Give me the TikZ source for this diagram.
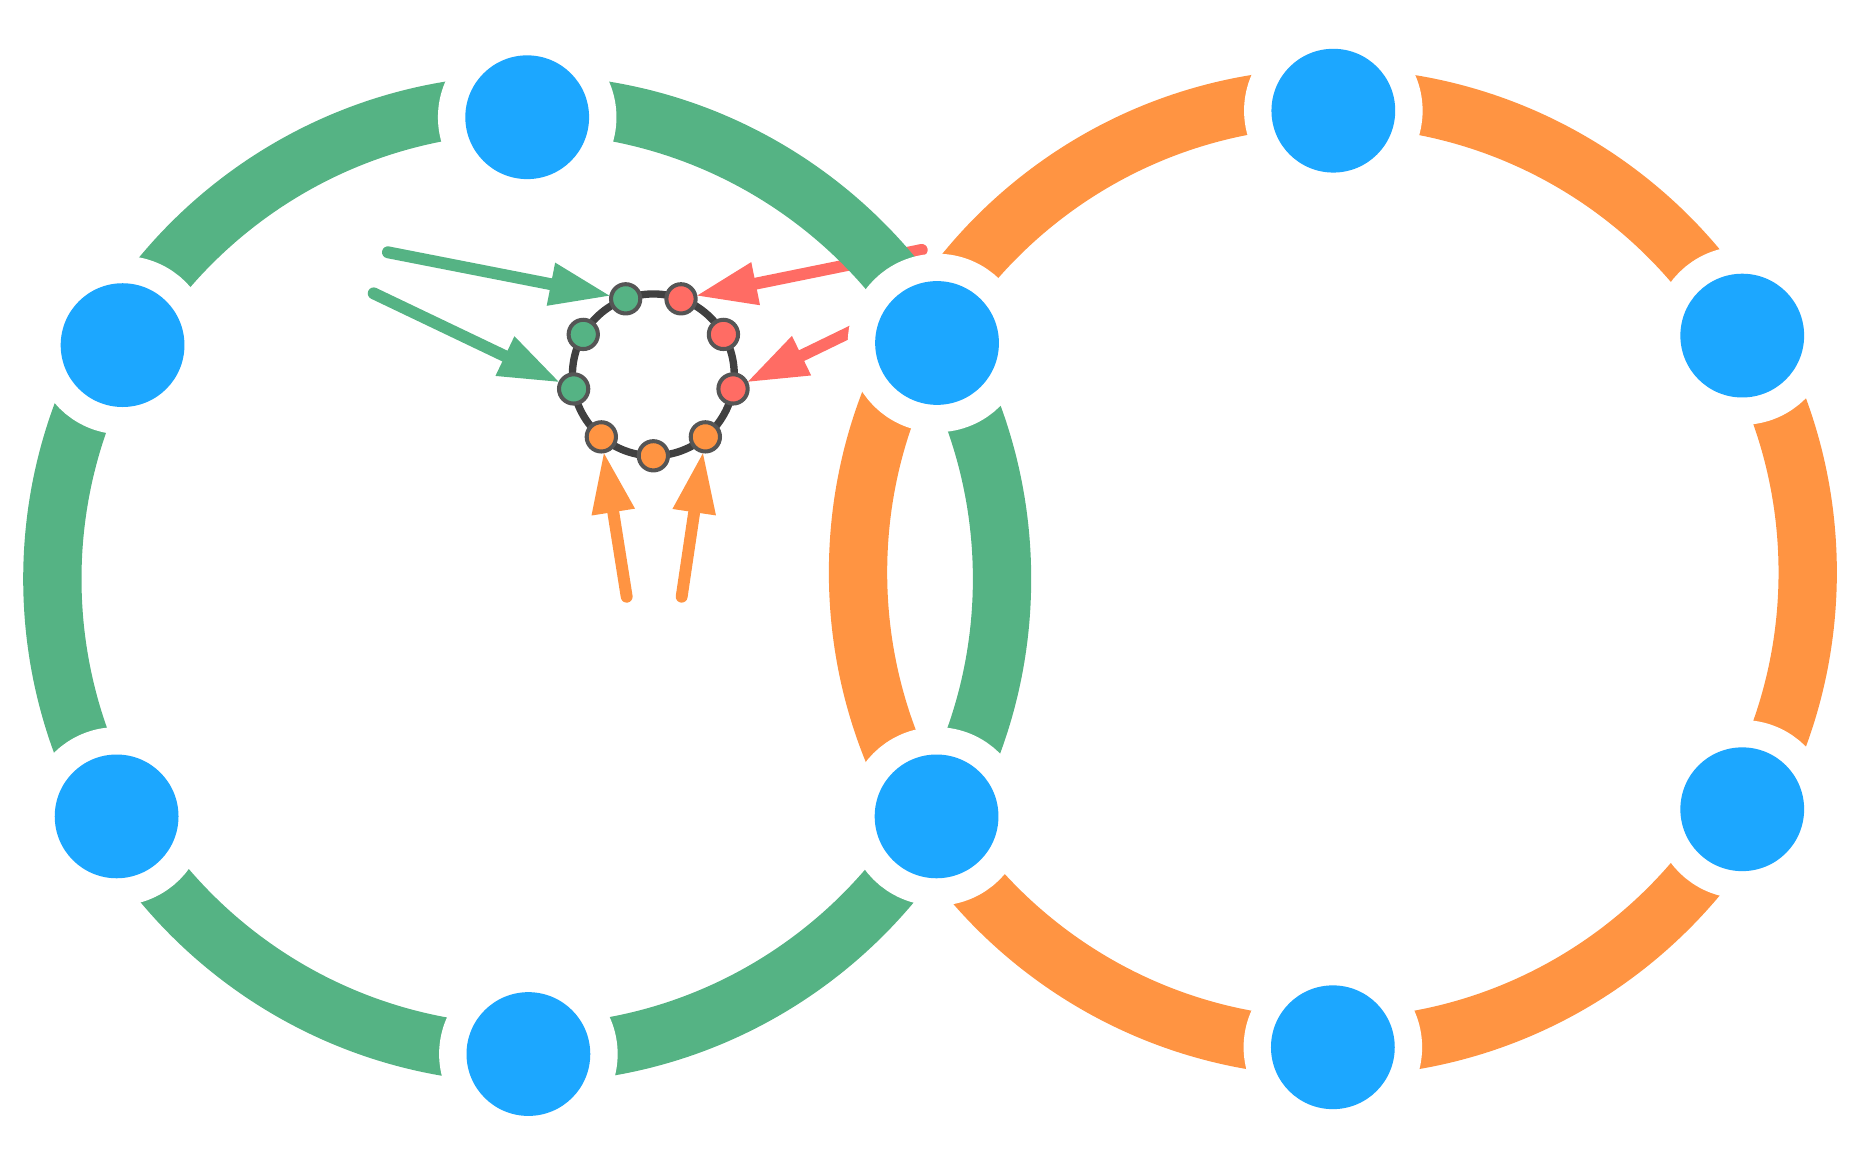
\documentclass[tikz,border=0pt]{standalone}
\usetikzlibrary{arrows.meta}
\definecolor{cgreen}{RGB}{85,179,132}
\definecolor{corange}{RGB}{255,148,66}
\definecolor{cred}{RGB}{255,108,100}
\definecolor{cblue}{RGB}{28,167,255}
\definecolor{cring}{RGB}{64,64,64}
\definecolor{cborder}{RGB}{85,85,85}
\begin{document}
\begin{tikzpicture}[x=1pt,y=-1pt,
  hub/.style={circle, fill=cblue, minimum size=104pt, inner sep=0pt, outer sep=0pt,
              preaction={draw=white, line width=46pt}},
  port/.style={circle, fill=#1, draw=cborder, line width=3.4pt, minimum size=24.6pt, inner sep=0pt},
  band/.style={draw=#1, line width=49pt},
  feed/.style={draw=#1, line width=10pt, line cap=round,
               -{Triangle[length=50pt,width=37pt,line width=0pt]}}
]
\useasboundingbox (0,0) rectangle (1568,980);
% tails of the feeding arrows
\coordinate (t1) at (326,212);
\coordinate (t2) at (314,246.5);
\coordinate (t3) at (774.5,210);
\coordinate (t4) at (735,269);
\coordinate (t5) at (526.6,501.4);
\coordinate (t6) at (572.8,501.4);
% small ring
\coordinate (rc) at (549,315);
\draw[cring, line width=6.2pt] (rc) circle[radius=68pt];
\path (rc) ++(110:68pt) node[port=cgreen] (p110) {};
\path (rc) ++(150:68pt) node[port=cgreen] (p150) {};
\path (rc) ++(190:68pt) node[port=cgreen] (p190) {};
\path (rc) ++(70:68pt) node[port=cred] (p70) {};
\path (rc) ++(30:68pt) node[port=cred] (p30) {};
\path (rc) ++(350:68pt) node[port=cred] (p350) {};
\path (rc) ++(310:68pt) node[port=corange] (p310) {};
\path (rc) ++(270:68pt) node[port=corange] (p270) {};
\path (rc) ++(230:68pt) node[port=corange] (p230) {};
% arrows
\draw[feed=cgreen] (t1) -- (p110);
\draw[feed=cgreen] (t2) -- (p190);
\draw[feed=cred] (t3) -- (p70);
\draw[feed=cred] (t4) -- (p350);
\draw[feed=corange] (t5) -- (p230);
\draw[feed=corange] (t6) -- (p310);
% big rings
\draw[band=cgreen] (443,486.5) circle[radius=399pt];
\draw[band=corange] (1120,481) circle[radius=399pt];
% hubs
\node[hub] (gtop) at (443,98.5) {};
\node[hub] (gul) at (103,290) {};
\node[hub] (gll) at (98,686) {};
\node[hub] (gbot) at (444,885.7) {};
\node[hub] (sup) at (787.4,288.2) {};
\node[hub] (slo) at (787,686) {};
\node[hub] (otop) at (1120.4,93) {};
\node[hub] (our) at (1464,282) {};
\node[hub] (olr) at (1464,680) {};
\node[hub] (obot) at (1120,880) {};
\end{tikzpicture}
\end{document}
